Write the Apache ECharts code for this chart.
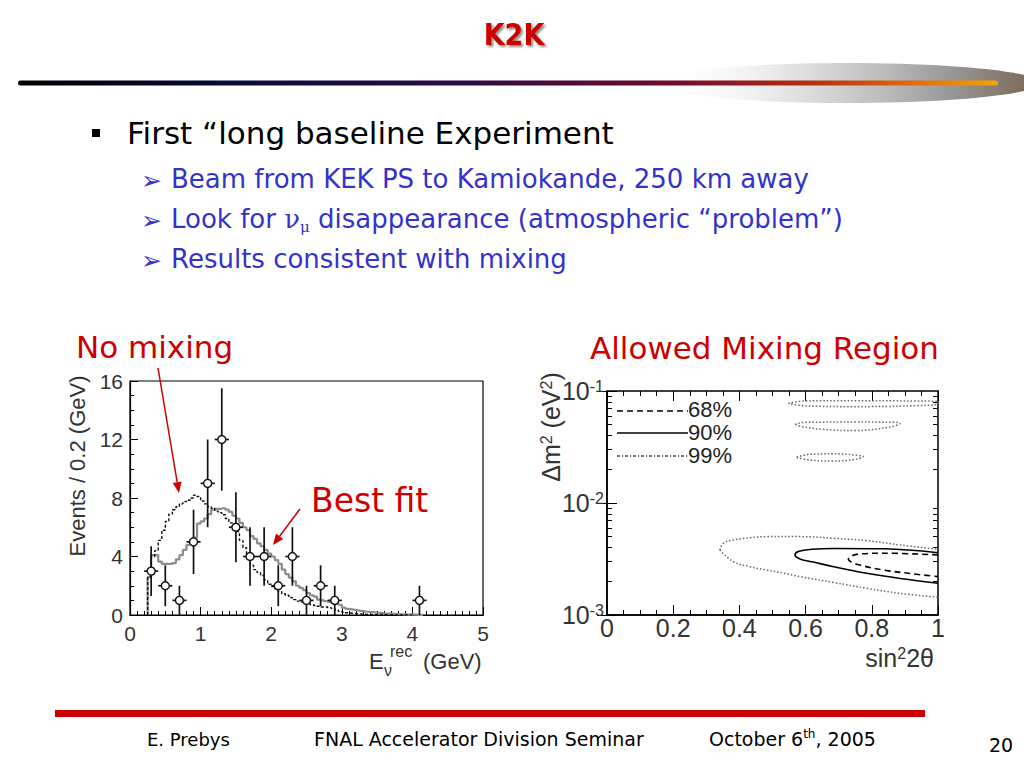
<!DOCTYPE html>
<html><head><meta charset="utf-8">
<script src="https://cdn.jsdelivr.net/npm/echarts@6/dist/echarts.min.js"></script>
<style>html,body{margin:0;padding:0;background:#fff}#c{width:1024px;height:768px}</style>
</head><body><div id="c"></div>
<script>
// ---------- Left panel: K2K reconstructed neutrino energy ----------
const dataE   = [0.3, 0.5, 0.7, 0.9, 1.1, 1.3, 1.5, 1.7, 1.9, 2.1, 2.3, 2.5, 2.7, 2.9, 4.1];
const dataN   = [3, 2, 1, 5, 9, 12, 6, 4, 4, 2, 4, 1, 2, 1, 1];
const dataErr = [1.7, 1.4, 1.0, 2.2, 3.0, 3.5, 2.4, 2.0, 2.0, 1.4, 2.0, 1.0, 1.4, 1.0, 1.0];
const dataHalfBin = 0.1;

const histStart = 0.25, histWidth = 0.05;
const noMixing = [
  2.6, 4.0, 4.4, 5.1, 5.8, 6.4, 6.9, 7.2, 7.4, 7.6,
  7.75, 7.85, 8.0, 8.2, 8.1, 7.8, 7.6, 7.4, 7.3, 7.1,
  7.0, 6.85, 6.6, 6.3, 6.0, 5.7, 5.1, 4.6, 4.0, 3.4,
  3.1, 2.9, 2.7, 2.4, 2.1, 1.95, 1.8, 1.6, 1.45, 1.35,
  1.2, 1.05, 0.95, 0.9, 0.8, 0.8, 0.7, 0.65, 0.6, 0.55,
  0.55, 0.5, 0.45, 0.35, 0.25, 0.2, 0.15, 0.12, 0.1, 0.08,
  0.06, 0.05, 0.04, 0.04, 0.03, 0.03, 0.02, 0.02, 0.02, 0.01,
  0.01, 0.01, 0.01, 0.01, 0.01
];
const bestFit = [
  2.6, 4.1, 4.1, 3.65, 3.5, 3.5, 3.5, 3.55, 3.8, 4.1,
  4.45, 4.8, 5.1, 5.3, 6.25, 6.4, 6.6, 6.9, 7.2, 7.25,
  7.25, 7.3, 7.2, 7.05, 6.8, 6.6, 6.3, 6.0, 5.8, 5.4,
  5.2, 4.9, 4.7, 4.45, 4.2, 4.0, 3.75, 3.5, 3.1, 2.8,
  2.55, 2.3, 2.0, 1.85, 1.7, 1.5, 1.35, 1.25, 1.05, 1.0,
  0.95, 0.9, 0.85, 0.8, 0.7, 0.5, 0.42, 0.38, 0.34, 0.3,
  0.27, 0.24, 0.22, 0.2, 0.17, 0.15, 0.12, 0.1, 0.09, 0.08,
  0.06, 0.05, 0.04, 0.03, 0.02, 0.02, 0.01, 0.01
];
const leftXTicks = [0, 5, 1];   // min, max, interval
const leftYTicks = [0, 16, 4];

// ---------- Right panel: allowed region (sin^2 2theta, dm^2) ----------
const cl99Main = [[0.341,0.00380],[0.351,0.00436],[0.382,0.00468],[0.432,0.00490],[0.483,0.00501],[0.584,0.00501],[0.685,0.00484],[0.785,0.00461],[0.886,0.00422],[1.0,0.00386]];
const cl99MainLow = [[0.341,0.00380],[0.382,0.00299],[0.432,0.00270],[0.483,0.00252],[0.534,0.00236],[0.584,0.00220],[0.685,0.00195],[0.785,0.00173],[0.886,0.00156],[1.0,0.00144]];
const cl99IslandA = [[0.548,0.0777],[0.60,0.0815],[0.75,0.0820],[0.90,0.0815],[1.0,0.0805],[1.0,0.0770],[0.90,0.0735],[0.75,0.0725],[0.60,0.0735],[0.548,0.0777]];
const cl99IslandB = [[0.568,0.0504],[0.60,0.0525],[0.75,0.0528],[0.87,0.0525],[0.885,0.0514],[0.85,0.0474],[0.75,0.0443],[0.65,0.0455],[0.59,0.0480],[0.568,0.0504]];
const cl99IslandC = [[0.573,0.0256],[0.61,0.0272],[0.68,0.0275],[0.75,0.0268],[0.774,0.0259],[0.74,0.0243],[0.68,0.0237],[0.61,0.0242],[0.573,0.0256]];
const cl90 = [[1.0,0.00360],[0.836,0.00390],[0.685,0.00393],[0.619,0.00386],[0.580,0.00370],[0.568,0.00344],[0.585,0.00315],[0.619,0.00299],[0.685,0.00270],[0.785,0.00236],[0.886,0.00212],[1.0,0.00192]];
const cl68 = [[1.0,0.00344],[0.836,0.00356],[0.754,0.00348],[0.735,0.00330],[0.729,0.00314],[0.740,0.00296],[0.764,0.00279],[0.836,0.00252],[0.936,0.00231],[1.0,0.00220]];
const rightXTicks = [0, 1, 0.2];
const logMajor = [0.001, 0.01, 0.1];
const logMinor = [0.002,0.003,0.004,0.005,0.006,0.007,0.008,0.009,0.02,0.03,0.04,0.05,0.06,0.07,0.08,0.09];
const legendLabels = ['68%', '90%', '99%'];

// ---------- helpers ----------
function histPoints(vals) {
  const pts = [[histStart, 0]];
  vals.forEach((v, i) => pts.push([+(histStart + i * histWidth).toFixed(3), v]));
  const end = +(histStart + vals.length * histWidth).toFixed(3);
  pts.push([end, vals[vals.length - 1]]);
  pts.push([end, 0]);
  return pts;
}
const RED = '#cc0000', BLUE = '#3333cc';
const SLIDE_FONT = '"DejaVu Sans", "Noto Sans", sans-serif';
const PLOT_FONT = '"Liberation Sans", Arial, sans-serif';

function arrow(x1, y1, x2, y2) {
  const a = Math.atan2(y2 - y1, x2 - x1), L = 11, W = 4.5;
  const bx = x2 - L * Math.cos(a), by = y2 - L * Math.sin(a);
  const px = -Math.sin(a) * W, py = Math.cos(a) * W;
  return [
    {type: 'line', shape: {x1, y1, x2: bx, y2: by}, style: {stroke: RED, lineWidth: 1.5}},
    {type: 'polygon', shape: {points: [[x2, y2], [bx + px, by + py], [bx - px, by - py]]}, style: {fill: RED}}
  ];
}
function txt(text, x, y, size, fill) {
  return {type: 'text', style: {text, x, y, fill,
    font: size + 'px ' + SLIDE_FONT, textAlign: 'left', textVerticalAlign: 'middle'}};
}

const chart = echarts.init(document.getElementById('c'), null, {renderer: 'svg', width: 1024, height: 768});

const tickCommon = {inside: true, lineStyle: {color: '#000', width: 1}};
const logAxisBase = {type: 'log', gridIndex: 1, min: 0.001, max: 0.1, logBase: 10,
  splitLine: {show: false}, minorSplitLine: {show: false}};

const graphic = [
  // header bar with glow
  {type: 'ellipse', shape: {cx: 848, cy: 83, rx: 192, ry: 20},
   style: {fill: new echarts.graphic.LinearGradient(0, 0, 1, 0, [
     {offset: 0, color: 'rgba(255,255,255,0)'}, {offset: 0.35, color: 'rgba(215,215,215,0.7)'},
     {offset: 0.75, color: 'rgba(150,150,150,0.95)'}, {offset: 1, color: 'rgba(120,100,80,1)'}])}},
  {type: 'rect', shape: {x: 18, y: 80.5, width: 980, height: 5, r: 2.5},
   style: {fill: new echarts.graphic.LinearGradient(0, 0, 1, 0, [
     {offset: 0, color: '#000000'}, {offset: 0.22, color: '#0a0a3c'}, {offset: 0.45, color: '#2c0a44'},
     {offset: 0.66, color: '#6c0a30'}, {offset: 0.8, color: '#b02a12'}, {offset: 0.92, color: '#e07010'},
     {offset: 1, color: '#f4a400'}])}},
  {type: 'text', style: {text: 'K2K', x: 514, y: 34, fill: RED,
    font: 'bold 30px "Liberation Sans Narrow", "DejaVu Sans Condensed", sans-serif',
    textAlign: 'center', textVerticalAlign: 'middle',
    textShadowColor: 'rgba(0,0,0,0.45)', textShadowOffsetX: 2, textShadowOffsetY: 2, textShadowBlur: 2}},
  // bullets
  {type: 'rect', shape: {x: 92, y: 129, width: 8, height: 8}, style: {fill: '#000'}},
  txt('First \u201Clong baseline Experiment', 127, 133, 31, '#000'),
  txt('\u27A2', 141, 180, 25, BLUE),
  txt('Beam from KEK PS to Kamiokande, 250 km away', 171, 179, 26, BLUE),
  txt('\u27A2', 141, 220, 25, BLUE),
  {type: 'text', style: {x: 171, y: 219, textAlign: 'left', textVerticalAlign: 'middle',
    text: '{n|Look for }{nu|\u03BD}{sub|\u03BC}{n| disappearance (atmospheric \u201Cproblem\u201D)}',
    rich: {
      n: {font: '26px ' + SLIDE_FONT, fill: BLUE, lineHeight: 30, verticalAlign: 'middle'},
      nu: {font: '26px "DejaVu Serif", serif', fill: BLUE, lineHeight: 30, verticalAlign: 'middle'},
      sub: {font: '15px "DejaVu Serif", serif', fill: BLUE, lineHeight: 15, verticalAlign: 'bottom'}
    }}},
  txt('\u27A2', 141, 260, 25, BLUE),
  txt('Results consistent with mixing', 171, 259, 26, BLUE),
  // red annotations
  txt('No mixing', 76, 347, 31, RED),
  txt('Allowed Mixing Region', 590, 348, 31, RED),
  txt('Best fit', 311, 500, 33, RED),
  ...arrow(158, 368, 179, 493),
  ...arrow(300, 509, 273, 545),
  // left axis titles
  {type: 'text', rotation: Math.PI / 2, x: 77, y: 466,
   style: {text: 'Events / 0.2 (GeV)', x: 0, y: 0, fill: '#333', font: '22px ' + PLOT_FONT,
     textAlign: 'center', textVerticalAlign: 'middle'}},
  {type: 'text', style: {text: 'E', x: 369, y: 661, fill: '#333', font: '22px ' + PLOT_FONT, textAlign: 'left', textVerticalAlign: 'middle'}},
  {type: 'text', style: {text: '\u03BD', x: 384, y: 670, fill: '#333', font: '16px ' + PLOT_FONT, textAlign: 'left', textVerticalAlign: 'middle'}},
  {type: 'text', style: {text: 'rec', x: 390, y: 651, fill: '#333', font: '16px ' + PLOT_FONT, textAlign: 'left', textVerticalAlign: 'middle'}},
  {type: 'text', style: {text: '(GeV)', x: 423, y: 661, fill: '#333', font: '22px ' + PLOT_FONT, textAlign: 'left', textVerticalAlign: 'middle'}},
  // right axis titles
  {type: 'text', rotation: Math.PI / 2, x: 551, y: 427,
   style: {text: '{a|\u0394m}{s|2}{a| (eV}{s|2}{a|)}', x: 0, y: 0, textAlign: 'center', textVerticalAlign: 'middle',
     rich: {a: {font: '25px ' + PLOT_FONT, fill: '#333', lineHeight: 26, verticalAlign: 'middle'},
            s: {font: '16px ' + PLOT_FONT, fill: '#333', lineHeight: 16, verticalAlign: 'top'}}}},
  {type: 'text', style: {text: '{a|sin}{s|2}{a|2\u03B8}', x: 934, y: 658, textAlign: 'right', textVerticalAlign: 'middle',
     rich: {a: {font: '25px ' + PLOT_FONT, fill: '#333', lineHeight: 26, verticalAlign: 'middle'},
            s: {font: '16px ' + PLOT_FONT, fill: '#333', lineHeight: 16, verticalAlign: 'top'}}}},
  // right legend
  {type: 'line', shape: {x1: 617, y1: 411, x2: 688, y2: 411}, style: {stroke: '#000', lineWidth: 1.3, lineDash: [6, 4]}},
  {type: 'line', shape: {x1: 617, y1: 433, x2: 688, y2: 433}, style: {stroke: '#000', lineWidth: 1.3}},
  {type: 'line', shape: {x1: 617, y1: 456, x2: 688, y2: 456}, style: {stroke: '#444', lineWidth: 1.3, lineDash: [3, 2, 1, 2]}},
  ...legendLabels.map((t, i) => ({type: 'text', style: {
     text: t, x: 688, y: [409, 432, 455][i], textAlign: 'left', textVerticalAlign: 'middle',
     font: '22px ' + PLOT_FONT, fill: '#222'}})),
  // footer
  {type: 'rect', shape: {x: 55, y: 710, width: 870, height: 7}, style: {fill: RED}},
  txt('E. Prebys', 147, 739, 18, '#000'),
  txt('FNAL Accelerator Division Seminar', 314, 739, 19, '#000'),
  {type: 'text', style: {x: 709, y: 739, textAlign: 'left', textVerticalAlign: 'middle',
    text: '{a|October 6}{s|th}{a|, 2005}',
    rich: {a: {font: '19px ' + SLIDE_FONT, fill: '#000', lineHeight: 22, verticalAlign: 'middle'},
           s: {font: '12px ' + SLIDE_FONT, fill: '#000', lineHeight: 12, verticalAlign: 'top'}}}},
  txt('20', 989, 745, 19, '#000')
];

const option = {
  animation: false,
  backgroundColor: '#fff',
  grid: [
    {left: 130, top: 381, width: 353, height: 234, show: true, borderColor: '#000', borderWidth: 1.2, backgroundColor: 'transparent'},
    {left: 607, top: 391, width: 331, height: 224, show: true, borderColor: '#000', borderWidth: 1.5, backgroundColor: 'transparent'}
  ],
  xAxis: [
    {type: 'value', gridIndex: 0, min: leftXTicks[0], max: leftXTicks[1], interval: leftXTicks[2],
     axisLine: {show: true, onZero: false, lineStyle: {color: '#000', width: 1.2}},
     axisTick: Object.assign({length: 8}, tickCommon), minorTick: {show: true, splitNumber: 10, length: 4, lineStyle: {color: '#000'}},
     axisLabel: {fontSize: 21, color: '#333', margin: 8, fontFamily: PLOT_FONT},
     splitLine: {show: false}, minorSplitLine: {show: false}},
    {type: 'value', gridIndex: 1, min: rightXTicks[0], max: rightXTicks[1], interval: rightXTicks[2],
     axisLine: {show: true, onZero: false, lineStyle: {color: '#000', width: 1.5}},
     axisTick: Object.assign({length: 10}, tickCommon), minorTick: {show: true, splitNumber: 4, length: 5, lineStyle: {color: '#000'}},
     axisLabel: {fontSize: 25, color: '#333', margin: 3, fontFamily: PLOT_FONT, lineHeight: 20},
     splitLine: {show: false}, minorSplitLine: {show: false}},
    {type: 'value', gridIndex: 1, position: 'top', min: rightXTicks[0], max: rightXTicks[1], interval: rightXTicks[2],
     axisLine: {show: false}, axisLabel: {show: false},
     axisTick: Object.assign({length: 10}, tickCommon), minorTick: {show: true, splitNumber: 4, length: 5, lineStyle: {color: '#000'}},
     splitLine: {show: false}, minorSplitLine: {show: false}}
  ],
  yAxis: [
    {type: 'value', gridIndex: 0, min: leftYTicks[0], max: leftYTicks[1], interval: leftYTicks[2],
     axisLine: {show: true, onZero: false, lineStyle: {color: '#000', width: 1.2}},
     axisTick: Object.assign({length: 8}, tickCommon), minorTick: {show: true, splitNumber: 4, length: 4, lineStyle: {color: '#000'}},
     axisLabel: {fontSize: 21, color: '#333', margin: 7, fontFamily: PLOT_FONT},
     splitLine: {show: false}, minorSplitLine: {show: false}},
    Object.assign({}, logAxisBase, {position: 'left',
     axisLine: {show: true, onZero: false, lineStyle: {color: '#000', width: 1.5}},
     axisTick: Object.assign({length: 10, customValues: logMajor}, tickCommon),
     axisLabel: {customValues: logMajor, margin: 3, fontFamily: PLOT_FONT,
       formatter: v => '{b|10}{s|-' + Math.round(-Math.log10(v)) + '}',
       rich: {b: {fontSize: 25, color: '#333', fontFamily: PLOT_FONT, lineHeight: 26, verticalAlign: 'middle'},
              s: {fontSize: 16, color: '#333', fontFamily: PLOT_FONT, lineHeight: 16, verticalAlign: 'top'}}}}),
    Object.assign({}, logAxisBase, {position: 'left', axisLine: {show: false}, axisLabel: {show: false},
     axisTick: Object.assign({length: 5, customValues: logMinor}, tickCommon)}),
    Object.assign({}, logAxisBase, {position: 'right', axisLine: {show: false}, axisLabel: {show: false},
     axisTick: Object.assign({length: 10, customValues: logMajor}, tickCommon)}),
    Object.assign({}, logAxisBase, {position: 'right', axisLine: {show: false}, axisLabel: {show: false},
     axisTick: Object.assign({length: 5, customValues: logMinor}, tickCommon)})
  ],
  series: [
    {type: 'line', name: 'Best fit', xAxisIndex: 0, yAxisIndex: 0, step: 'end', symbol: 'none',
     data: histPoints(bestFit), lineStyle: {color: '#8c8c8c', width: 2.2}, z: 2},
    {type: 'line', name: 'No mixing', xAxisIndex: 0, yAxisIndex: 0, step: 'end', symbol: 'none',
     data: histPoints(noMixing), lineStyle: {color: '#111', width: 1.4, type: [3, 2]}, z: 3},
    {type: 'custom', name: 'Data', xAxisIndex: 0, yAxisIndex: 0, z: 5,
     data: dataE.map((e, i) => [e, dataN[i], dataErr[i]]),
     renderItem: (params, api) => {
       const x = api.value(0), y = api.value(1), err = api.value(2);
       const c = api.coord([x, y]);
       const lo = api.coord([x, Math.max(0, y - err)]), hi = api.coord([x, y + err]);
       const l = api.coord([x - dataHalfBin, y]), r = api.coord([x + dataHalfBin, y]);
       return {type: 'group', children: [
         {type: 'line', shape: {x1: lo[0], y1: lo[1], x2: hi[0], y2: hi[1]}, style: {stroke: '#111', lineWidth: 1.7}},
         {type: 'line', shape: {x1: l[0], y1: c[1], x2: r[0], y2: c[1]}, style: {stroke: '#111', lineWidth: 1.7}},
         {type: 'circle', shape: {cx: c[0], cy: c[1], r: 4}, style: {fill: '#fff', stroke: '#111', lineWidth: 1.4}}
       ]};
     }},
    ...[cl99Main, cl99MainLow, cl99IslandA, cl99IslandB, cl99IslandC].map(d => ({
      type: 'line', name: '99%', xAxisIndex: 1, yAxisIndex: 1, symbol: 'none', smooth: 0.4, data: d,
      lineStyle: {color: '#666', width: 1.5, type: [1.5, 2]}})),
    {type: 'line', name: '90%', xAxisIndex: 1, yAxisIndex: 1, symbol: 'none', smooth: 0.4, data: cl90,
     lineStyle: {color: '#000', width: 1.6}},
    {type: 'line', name: '68%', xAxisIndex: 1, yAxisIndex: 1, symbol: 'none', smooth: 0.4, data: cl68,
     lineStyle: {color: '#000', width: 1.6, type: [6, 4]}}
  ],
  graphic: graphic
};
chart.setOption(option);
</script>
</body></html>
